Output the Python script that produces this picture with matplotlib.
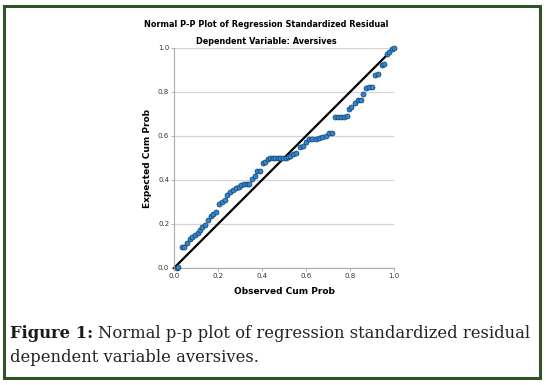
import matplotlib
matplotlib.use("Agg")
import matplotlib.pyplot as plt
from matplotlib.patches import Rectangle

observed = [0.012, 0.018, 0.035, 0.047, 0.060, 0.073, 0.083, 0.095, 0.108, 0.117, 0.127, 0.139,
            0.155, 0.167, 0.179, 0.190, 0.203, 0.217, 0.230, 0.242, 0.255, 0.270, 0.280,
            0.294, 0.306, 0.318, 0.330, 0.342, 0.355, 0.367, 0.376, 0.390, 0.403, 0.415,
            0.426, 0.436, 0.448, 0.460, 0.472, 0.484, 0.496, 0.508, 0.518, 0.527, 0.539,
            0.555, 0.573, 0.585, 0.599, 0.614, 0.629, 0.644, 0.659, 0.674, 0.689, 0.705,
            0.720, 0.732, 0.745, 0.759, 0.773, 0.785, 0.795, 0.806, 0.823, 0.835, 0.849,
            0.861, 0.874, 0.887, 0.899, 0.915, 0.929, 0.944, 0.956, 0.967, 0.979, 0.991, 1.000]
expected = [0.000, 0.004, 0.094, 0.097, 0.115, 0.130, 0.142, 0.150, 0.160, 0.173, 0.185, 0.194,
            0.218, 0.238, 0.244, 0.255, 0.290, 0.300, 0.310, 0.330, 0.345, 0.355, 0.362,
            0.370, 0.376, 0.382, 0.382, 0.382, 0.403, 0.420, 0.440, 0.440, 0.479, 0.483,
            0.494, 0.500, 0.500, 0.500, 0.500, 0.500, 0.500, 0.500, 0.503, 0.509, 0.517,
            0.521, 0.551, 0.556, 0.571, 0.585, 0.585, 0.588, 0.590, 0.595, 0.601, 0.612,
            0.615, 0.685, 0.685, 0.685, 0.688, 0.690, 0.724, 0.730, 0.751, 0.762, 0.765,
            0.790, 0.817, 0.821, 0.821, 0.879, 0.882, 0.924, 0.927, 0.973, 0.982, 0.994, 1.000]
ticks = [0.0, 0.2, 0.4, 0.6, 0.8, 1.0]
tick_labels = ["0.0", "0.2", "0.4", "0.6", "0.8", "1.0"]

W, H = 546, 385
fig = plt.figure(figsize=(W / 100, H / 100), dpi=100)
fig.patch.set_facecolor("white")

# green frame
fig.patches.append(Rectangle((4 / W, 1 - 377.5 / H), (540 - 4) / W, (377.5 - 5.5) / H,
                             transform=fig.transFigure, fill=False,
                             edgecolor="#2f5326", linewidth=2.2, zorder=0))

ax = fig.add_axes([174 / W, 1 - 268 / H, 220 / W, 220 / H])
ax.set_xlim(0, 1)
ax.set_ylim(0, 1)
ax.set_xticks(ticks)
ax.set_xticklabels(tick_labels)
ax.set_yticks(ticks)
ax.set_yticklabels(tick_labels)
for s in ["top", "right"]:
    ax.spines[s].set_visible(False)
for s in ["left", "bottom"]:
    ax.spines[s].set_color("#aaaaaa")
    ax.spines[s].set_linewidth(0.8)
ax.grid(axis="y", color="#d4d4d4", linewidth=0.9)
ax.set_axisbelow(True)
ax.tick_params(axis="both", length=2, width=0.6, color="#aaaaaa", labelsize=5,
               labelcolor="#333333", pad=1.5)

ax.plot([0, 1], [0, 1], color="black", linewidth=1.6, zorder=2, clip_on=False)
ax.scatter(observed, expected, s=13, facecolor="#2a88da", edgecolor="#1a3a5a",
           linewidth=0.5, zorder=3, clip_on=False)

ax.set_xlabel("Observed Cum Prob", fontsize=6.5, fontweight="bold", labelpad=6)
ax.set_ylabel("Expected Cum Prob", fontsize=6.5, fontweight="bold", labelpad=4)

fig.text(266.5 / W, 1 - 24.5 / H, "Normal P-P Plot of Regression Standardized Residual",
         ha="center", va="center", fontsize=5.9, fontweight="bold")
fig.text(266.5 / W, 1 - 41.5 / H, "Dependent Variable: Aversives",
         ha="center", va="center", fontsize=5.9, fontweight="bold")

# caption
cap_font = "DejaVu Serif"
cap_size = 11.5
t1 = fig.text(10 / W, 1 - 333 / H, "Figure 1:", ha="left", va="center",
              fontsize=cap_size, fontweight="bold", family=cap_font, color="#1a1a1a")
fig.canvas.draw()
bb = t1.get_window_extent()
t2 = fig.text((bb.x1 + 5) / W, 1 - 333 / H,
              "Normal p-p plot of regression standardized residual",
              ha="left", va="center", fontsize=cap_size, family=cap_font, color="#222222")
fig.canvas.draw()
bb2 = t2.get_window_extent()
scale = (532 - 10) / (bb2.x1 - 10)
cap_size2 = cap_size * scale
t1.set_fontsize(cap_size2)
fig.canvas.draw()
bb = t1.get_window_extent()
t2.set_fontsize(cap_size2)
t2.set_x((bb.x1 + 5 * scale) / W)
fig.text(10 / W, 1 - 357 / H, "dependent variable aversives.", ha="left", va="center",
         fontsize=cap_size2, family=cap_font, color="#222222")

fig.savefig("out.png", dpi=100)
